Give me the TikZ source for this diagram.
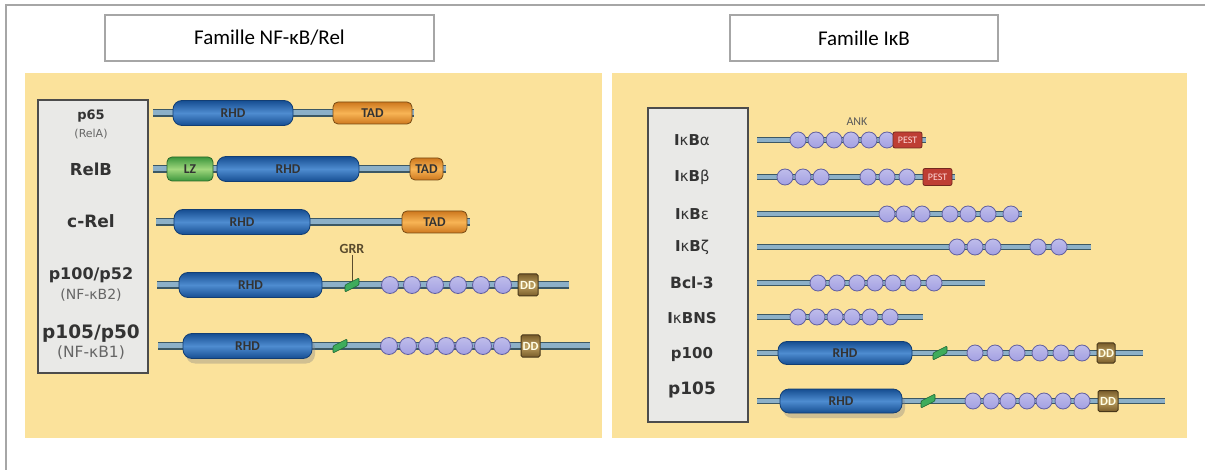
\documentclass[tikz,border=0pt]{standalone}
\usepackage{fontspec}
\setmainfont{Carlito}
\newfontfamily\labfont{DejaVu Sans}
\usetikzlibrary{shadows}

\definecolor{panel}{RGB}{251,226,155}
\definecolor{boxgray}{RGB}{233,233,231}
\definecolor{rhddark}{RGB}{22,78,145}
\definecolor{rhdlight}{RGB}{78,140,208}
\definecolor{taddark}{RGB}{205,120,30}
\definecolor{tadlight}{RGB}{248,180,85}
\definecolor{tadline}{RGB}{120,75,20}
\definecolor{lzdark}{RGB}{60,150,60}
\definecolor{lzlight}{RGB}{160,215,125}
\definecolor{chaindark}{RGB}{60,88,100}
\definecolor{chainlight}{RGB}{140,176,200}
\definecolor{ankfill}{RGB}{163,160,226}
\definecolor{ankline}{RGB}{98,96,160}
\definecolor{pestred}{RGB}{190,62,52}
\definecolor{pestline}{RGB}{115,40,30}
\definecolor{dddark}{RGB}{120,92,42}
\definecolor{ddlight}{RGB}{190,160,95}
\definecolor{grrgreen}{RGB}{62,172,92}
\definecolor{grrline}{RGB}{28,100,50}
\definecolor{grrtext}{RGB}{90,75,45}

\tikzstyle{titlebox} = [rectangle, draw=black!35, line width=1.2pt, fill=white, minimum width=329pt, minimum height=46pt, font=\fontsize{21}{24}\selectfont]
\tikzstyle{protname} = [font=\labfont\bfseries, text=black!80, inner sep=0pt]
\tikzstyle{protsub} = [font=\labfont, text=black!60, inner sep=0pt]
\tikzstyle{chain} = [draw=chaindark, line width=1.5pt, double=chainlight, double distance=5pt]
\tikzstyle{chainr} = [draw=chaindark, line width=1.3pt, double=chainlight, double distance=4pt]
\tikzstyle{rhd} = [rectangle, rounded corners=9pt, draw=rhddark!80!black, line width=0.8pt, top color=rhddark, bottom color=rhddark, middle color=rhdlight, minimum height=25pt, inner sep=0pt, text=black!80, font=\bfseries\fontsize{13.5}{13}\selectfont]
\tikzstyle{tad} = [rectangle, rounded corners=5pt, draw=tadline, line width=0.8pt, top color=taddark, bottom color=taddark, middle color=tadlight, minimum height=22pt, inner sep=0pt, text=black!80, font=\bfseries\fontsize{13.5}{13}\selectfont]
\tikzstyle{lz} = [rectangle, rounded corners=5pt, draw=lzdark!70!black, line width=0.8pt, top color=lzdark, bottom color=lzdark, middle color=lzlight, minimum height=24pt, inner sep=0pt, text=black!80, font=\bfseries\fontsize{13.5}{13}\selectfont]
\tikzstyle{ank} = [circle, draw=ankline, top color=ankfill!70!white, bottom color=ankfill, line width=0.8pt, minimum size=17pt, inner sep=0pt]
\tikzstyle{ankr} = [ank, minimum size=16pt]
\tikzstyle{ddbox} = [rectangle, rounded corners=1.5pt, draw=dddark!60!black, line width=1pt, top color=dddark, bottom color=dddark, middle color=ddlight, minimum width=20pt, minimum height=22pt, inner sep=0pt, text=white!90!yellow, font=\bfseries\fontsize{12.5}{12}\selectfont]
\tikzstyle{pest} = [rectangle, rounded corners=2pt, draw=pestline, line width=0.8pt, fill=pestred, minimum width=29pt, minimum height=16pt, inner sep=0pt, text=red!15!white, font=\fontsize{10}{10}\selectfont]
\tikzstyle{grr} = [rectangle, rounded corners=1pt, draw=grrline, fill=grrgreen, line width=0.6pt, minimum width=14pt, minimum height=7pt, inner sep=0pt, yslant=0.5]
\tikzstyle{marker} = [font=\fontsize{12}{12}\selectfont, inner sep=1pt]

\begin{document}
\begin{tikzpicture}[x=1pt, y=-1pt]
\useasboundingbox (0,0) rectangle (1205,470);

% frame and panels
\draw [black!35, line width=1.3pt] (6,470) -- (6,5) -- (1205,5);
\fill [panel] (25,73) rectangle (602,438);
\fill [panel] (612,73) rectangle (1187,438);
\fill [boxgray, draw=black!70, line width=1.2pt] (38,100) rectangle (148,373);
\fill [boxgray, draw=black!70, line width=1.2pt] (648,108) rectangle (748,422);

\node (t1) [titlebox] at (269.5,38) {Famille NF-κB/Rel};
\node (t2) [titlebox, minimum width=268pt] at (864,38) {Famille IκB};

% NF-kB / Rel family
\node (n1) [protname, font=\labfont\bfseries\fontsize{13}{13}\selectfont] at (91,116) {p65};
\node (n1s) [protsub, font=\labfont\fontsize{11}{11}\selectfont] at (91,134) {(RelA)};
\node (n2) [protname, font=\labfont\bfseries\fontsize{16.5}{16}\selectfont] at (91,169) {RelB};
\node (n3) [protname, font=\labfont\bfseries\fontsize{17}{17}\selectfont] at (91,221) {c-Rel};
\node (n4) [protname, font=\labfont\bfseries\fontsize{16}{16}\selectfont] at (91,275) {p100/p52};
\node (n4s) [protsub, font=\labfont\fontsize{14}{14}\selectfont] at (91,295) {(NF-κB2)};
\node (n5) [protname, font=\labfont\bfseries\fontsize{18.5}{18}\selectfont] at (91,334) {p105/p50};
\node (n5s) [protsub, font=\labfont\fontsize{15.5}{15}\selectfont] at (91,353) {(NF-κB1)};

\coordinate (p65a) at (153,113);
\coordinate (p65b) at (414,113);
\draw [chain] (p65a) -- (p65b);
\node (p65rhd) [rhd, minimum width=120pt] at (233,113) {RHD};
\node (p65tad) [tad, minimum width=79pt] at (372.5,113) {TAD};

\coordinate (relba) at (153,169);
\coordinate (relbb) at (446,169);
\draw [chain] (relba) -- (relbb);
\node (relblz) [lz, minimum width=46pt] at (190,169) {LZ};
\node (relbrhd) [rhd, minimum width=142pt] at (288,169) {RHD};
\node (relbtad) [tad, minimum width=33pt] at (426.5,169) {TAD};

\coordinate (crela) at (156,222);
\coordinate (crelb) at (470,222);
\draw [chain] (crela) -- (crelb);
\node (crelrhd) [rhd, minimum width=136pt] at (242,222) {RHD};
\node (creltad) [tad, minimum width=65pt] at (434.5,222) {TAD};

\coordinate (p100a) at (157,285);
\coordinate (p100b) at (569,285);
\draw [chain] (p100a) -- (p100b);
\node (p100rhd) [rhd, minimum width=143pt] at (250.5,285) {RHD};
\foreach \x [count=\i] in {390,412,435,458,481,503}
  \node (p100k\i) [ank] at (\x,285) {};
\node (p100dd) [ddbox] at (528,285) {DD};
\node (grrlab) [marker, text=grrtext, font=\bfseries\fontsize{14}{14}\selectfont] at (352,249) {GRR};
\draw [grrtext, line width=1pt] (grrlab.south) -- (352,283);
\node (p100grr) [grr] at (352,285) {};

\coordinate (p105a) at (158,346);
\coordinate (p105b) at (590,346);
\draw [chain] (p105a) -- (p105b);
\node (p105rhd) [rhd, minimum width=129pt, drop shadow={opacity=0.35, shadow xshift=3pt, shadow yshift=-5pt}] at (247.5,346) {RHD};
\node (p105grr) [grr] at (340,346) {};
\foreach \x [count=\i] in {389,408,427,446,464,483,502}
  \node (p105k\i) [ank] at (\x,346) {};
\node (p105dd) [ddbox, minimum width=19pt] at (530.5,346) {DD};

% IkB family
\node (m1) [protname, font=\labfont\fontsize{15}{15}\selectfont] at (692,140) {\textbf{I}κ\textbf{B}α};
\node (m2) [protname, font=\labfont\fontsize{15}{15}\selectfont] at (692,177) {\textbf{I}κ\textbf{B}β};
\node (m3) [protname, font=\labfont\fontsize{15}{15}\selectfont] at (692,214) {\textbf{I}κ\textbf{B}ε};
\node (m4) [protname, font=\labfont\fontsize{15}{15}\selectfont] at (692,247) {\textbf{I}κ\textbf{B}ζ};
\node (m5) [protname, font=\labfont\bfseries\fontsize{15.5}{15}\selectfont] at (692,283) {Bcl-3};
\node (m6) [protname, font=\labfont\fontsize{15}{15}\selectfont] at (692,318) {\textbf{I}κ\textbf{BNS}};
\node (m7) [protname, font=\labfont\bfseries\fontsize{15}{15}\selectfont] at (692,354) {p100};
\node (m8) [protname, font=\labfont\bfseries\fontsize{17}{17}\selectfont] at (692,390) {p105};

\coordinate (iaa) at (757,140);
\coordinate (iab) at (926,140);
\draw [chainr] (iaa) -- (iab);
\foreach \x [count=\i] in {798,816,834,851,869,887}
  \node (iak\i) [ankr] at (\x,140) {};
\node (iapest) [pest] at (907.5,140) {PEST};
\node (anklab) [marker, text=black!65] at (857,122) {ANK};

\coordinate (iba) at (757,177);
\coordinate (ibb) at (955,177);
\draw [chainr] (iba) -- (ibb);
\foreach \x [count=\i] in {785,803,821,868,887,907}
  \node (ibk\i) [ankr] at (\x,177) {};
\node (ibpest) [pest, minimum height=17pt] at (937.5,177) {PEST};

\coordinate (iea) at (757,214);
\coordinate (ieb) at (1022,214);
\draw [chainr] (iea) -- (ieb);
\foreach \x [count=\i] in {887,904,922,950,968,988,1011}
  \node (iek\i) [ankr] at (\x,214) {};

\coordinate (iza) at (757,247);
\coordinate (izb) at (1091,247);
\draw [chainr] (iza) -- (izb);
\foreach \x [count=\i] in {957,975,993,1038,1059}
  \node (izk\i) [ankr] at (\x,247) {};

\coordinate (bcla) at (757,283);
\coordinate (bclb) at (985,283);
\draw [chainr] (bcla) -- (bclb);
\foreach \x [count=\i] in {818,837,857,875,893,913,934}
  \node (bclk\i) [ankr] at (\x,283) {};

\coordinate (nsa) at (757,317);
\coordinate (nsb) at (923,317);
\draw [chainr] (nsa) -- (nsb);
\foreach \x [count=\i] in {798,817,835,852,870,890}
  \node (nsk\i) [ankr] at (\x,317) {};

\coordinate (ra) at (757,353);
\coordinate (rb) at (1143,353);
\draw [chainr] (ra) -- (rb);
\node (rrhd) [rhd, minimum width=134pt, minimum height=23pt] at (845,353) {RHD};
\node (rgrr) [grr] at (940,353) {};
\foreach \x [count=\i] in {975,995,1017,1040,1061,1082}
  \node (rk\i) [ankr] at (\x,353) {};
\node (rdd) [ddbox, minimum width=18pt, minimum height=20pt] at (1106,353) {DD};

\coordinate (sa) at (757,401);
\coordinate (sb) at (1165,401);
\draw [chainr] (sa) -- (sb);
\node (srhd) [rhd, minimum width=122pt, minimum height=24pt, drop shadow={opacity=0.35, shadow xshift=3pt, shadow yshift=-5pt}] at (841,401) {RHD};
\node (sgrr) [grr] at (928,401) {};
\foreach \x [count=\i] in {973,991,1008,1027,1044,1063,1082}
  \node (sk\i) [ankr] at (\x,401) {};
\node (sdd) [ddbox, minimum height=21pt] at (1108,401) {DD};

\end{tikzpicture}
\end{document}
